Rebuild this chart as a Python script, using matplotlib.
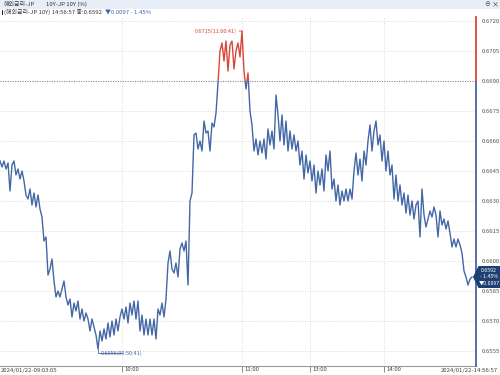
import numpy as np
import matplotlib
matplotlib.use('Agg')
import matplotlib.pyplot as plt
from matplotlib.patches import Rectangle, Polygon
from matplotlib.transforms import blended_transform_factory

plt.rcParams['font.family'] = ['Noto Sans CJK KR', 'DejaVu Sans']

# ---- data (JP 10Y yield, 2024/01/22) ----
values = [
    0.6650, 0.6647, 0.6650, 0.6646, 0.6649, 0.6635, 0.6648, 0.6650, 0.6643, 0.6646,
    0.6641, 0.6645, 0.6640, 0.6633, 0.6631, 0.6636, 0.6628, 0.6634, 0.6627, 0.6633,
    0.6626, 0.6622, 0.6610, 0.6612, 0.6593, 0.6596, 0.6601, 0.6590, 0.6582, 0.6585,
    0.6582, 0.6586, 0.6590, 0.6582, 0.6578, 0.6581, 0.6572, 0.6579, 0.6575, 0.6580,
    0.6571, 0.6576, 0.6570, 0.6574, 0.6571, 0.6565, 0.6571, 0.6567, 0.6563, 0.6556,
    0.6565, 0.6560, 0.6566, 0.6561, 0.6569, 0.6562, 0.6570, 0.6563, 0.6571, 0.6565,
    0.6572, 0.6576, 0.6571, 0.6577, 0.6569, 0.6579, 0.6573, 0.6580, 0.6571, 0.6580,
    0.6565, 0.6573, 0.6563, 0.6571, 0.6563, 0.6571, 0.6563, 0.6571, 0.6561, 0.6576,
    0.6573, 0.6579, 0.6572, 0.6581, 0.6599, 0.6605, 0.6596, 0.6594, 0.6599, 0.6592,
    0.6606, 0.6609, 0.6605, 0.6610, 0.6588, 0.6630, 0.6634, 0.6663, 0.6664, 0.6656,
    0.6660, 0.6655, 0.6670, 0.6664, 0.6665, 0.6655, 0.6669, 0.6667, 0.6674, 0.6689,
    0.6705, 0.6709, 0.6700, 0.6710, 0.6695, 0.6708, 0.6710, 0.6696, 0.6705, 0.6709,
    0.6702, 0.6715, 0.6695, 0.6686, 0.6694, 0.6675, 0.6668, 0.6655, 0.6661, 0.6653,
    0.6660, 0.6654, 0.6661, 0.6651, 0.6666, 0.6658, 0.6665, 0.6656, 0.6683, 0.6673,
    0.6660, 0.6673, 0.6658, 0.6670, 0.6655, 0.6665, 0.6656, 0.6663, 0.6655, 0.6660,
    0.6648, 0.6655, 0.6641, 0.6653, 0.6644, 0.6650, 0.6640, 0.6648, 0.6634, 0.6645,
    0.6638, 0.6646, 0.6635, 0.6653, 0.6645, 0.6655, 0.6636, 0.6641, 0.6630, 0.6638,
    0.6628, 0.6635, 0.6630, 0.6636, 0.6630, 0.6636, 0.6631, 0.6645, 0.6654, 0.6643,
    0.6651, 0.6640, 0.6655, 0.6648, 0.6660, 0.6668, 0.6655, 0.6665, 0.6670, 0.6658,
    0.6663, 0.6650, 0.6660, 0.6645, 0.6655, 0.6643, 0.6648, 0.6631, 0.6643, 0.6630,
    0.6638, 0.6628, 0.6634, 0.6624, 0.6633, 0.6623, 0.6630, 0.6621, 0.6628, 0.6630,
    0.6612, 0.6636, 0.6623, 0.6617, 0.6621, 0.6625, 0.6622, 0.6627, 0.6623, 0.6612,
    0.6625, 0.6618, 0.6621, 0.6616, 0.6620, 0.6614, 0.6607, 0.6611, 0.6607, 0.6611,
    0.6608, 0.6604, 0.6595, 0.6592, 0.6588, 0.6591, 0.6592,
]
x_tick_idx = [61, 121, 155, 192]
x_tick_labels = ['10:00', '11:00', '13:00', '14:00']
y_ticks = [0.6555, 0.6570, 0.6585, 0.6600, 0.6615, 0.6630, 0.6645,
           0.6660, 0.6675, 0.6690, 0.6705, 0.6720]
prev_close = 0.6690
start_label = '2024/01/22-09:03:05'
end_label = '2024/01/22-14:56:57'
header1a = '해외금리-JP'
header1b = '10Y-JP 10Y (%)'
header2a = '(해외금리-JP 10Y) 14:56:57 종:0.6592'
header2b = '▼0.0097 - 1.45%'
max_idx, max_label = 121, '0.6715(11:00:41)'
min_idx, min_label = 49, '0.6556(09:50:41)'
box_lines = ['0.6592', '- 1.45%', '▼0.0097']

W, H = 500, 375
blue = '#4467a6'
red = '#d9463b'
navy = '#1e3f73'

fig = plt.figure(figsize=(W / 100, H / 100), dpi=100)
fig.patch.set_facecolor('white')

def fx(px):
    return px / W

def fy(py):
    return 1 - py / H

ax = fig.add_axes([0, fy(366), fx(476), (366 - 17) / H])
ax.set_facecolor('white')
x = np.arange(len(values))
ax.set_xlim(0, 238)
ax.set_ylim(0.65475, 0.6722)

# grid
for yv in y_ticks:
    if abs(yv - prev_close) < 1e-9:
        continue
    ax.axhline(yv, color='#cfcfcf', lw=0.6, ls=(0, (1, 2)), zorder=1)
for xv in x_tick_idx:
    ax.axvline(xv, color='#cfcfcf', lw=0.6, ls=(0, (1, 2)), zorder=1)
ax.axhline(prev_close, color='#8a8a8a', lw=0.8, ls=(0, (1, 1.2)), zorder=1.5)

# line, blue below prev close, red above
bl, = ax.plot(x, values, color=blue, lw=1.0, zorder=3)
rl, = ax.plot(x, values, color=red, lw=1.0, zorder=3)
clip_hi = Rectangle((-10, prev_close), 1000, 1, transform=ax.transData)
clip_lo = Rectangle((-10, prev_close - 1), 1000, 1, transform=ax.transData)
rl.set_clip_path(clip_hi)
bl.set_clip_path(clip_lo)

# spines
for s in ['left', 'top', 'right']:
    ax.spines[s].set_visible(False)
ax.spines['bottom'].set_color('#9a9a9a')
ax.spines['bottom'].set_linewidth(0.8)
trans = blended_transform_factory(ax.transAxes, ax.transData)
ax.plot([1, 1], [0.65475, prev_close], transform=trans, color=blue, lw=1.3, clip_on=False, zorder=4)
ax.plot([1, 1], [prev_close, 0.6722], transform=trans, color=red, lw=1.3, clip_on=False, zorder=4)

# y ticks
ax.yaxis.tick_right()
ax.set_yticks(y_ticks)
ax.set_yticklabels([f'{v:.4f}' for v in y_ticks])
ax.tick_params(axis='y', length=0, pad=4, labelsize=4.3, labelcolor='#555555')

# x ticks
ax.set_xticks(x_tick_idx)
ax.set_xticklabels(x_tick_labels)
ax.tick_params(axis='x', length=4, width=0.6, color='#777777', pad=-3.5,
               labelsize=4.3, labelcolor='#444444')
for lab in ax.get_xticklabels():
    lab.set_ha('left')
    lab.set_va('top')
    lab.set_x(0)
import matplotlib.transforms as mtrans
for lab in ax.get_xticklabels():
    lab.set_transform(lab.get_transform() + mtrans.ScaledTranslation(1.5 / 72, 0, fig.dpi_scale_trans))

fig.text(fx(1), fy(370.5), start_label, fontsize=4.3, color='#444444', ha='left', va='center')
fig.text(fx(498), fy(370.5), end_label, fontsize=4.3, color='#444444', ha='right', va='center')

# annotations
ax.annotate(max_label, xy=(max_idx, values[max_idx]), xytext=(-4, 0),
            textcoords='offset points', ha='right', va='center', fontsize=4,
            color=red, arrowprops=dict(arrowstyle='-', color=red, lw=0.6,
                                       shrinkA=0, shrinkB=0))
ax.annotate(min_label, xy=(min_idx, values[min_idx]), xytext=(2, -3),
            textcoords='offset points', ha='left', va='center', fontsize=4,
            color=blue, arrowprops=dict(arrowstyle='-', color=blue, lw=0.6,
                                        shrinkA=0, shrinkB=0,
                                        connectionstyle='angle,angleA=0,angleB=90,rad=0'))

# header
fig.patches.append(Rectangle((0, fy(8.5)), 1, 8.5 / H, transform=fig.transFigure,
                             facecolor='#e7eef7', edgecolor='none', zorder=0))
fig.text(fx(4), fy(4.5), header1a, fontsize=4.3, color='#333333', va='center')
fig.text(fx(46), fy(4.5), header1b, fontsize=4.3, color='#333333', va='center')
fig.patches.append(Rectangle((fx(1.5), fy(14.5)), fx(1.5), 5 / H, transform=fig.transFigure,
                             facecolor='#222222', edgecolor='none'))
t2 = fig.text(fx(4), fy(12), header2a, fontsize=4.3, color='#333333', va='center')
fig.canvas.draw()
bb = t2.get_window_extent()
fig.text((bb.x1 + 3) / W, fy(12), header2b, fontsize=4.3, color='#3d62b0', va='center')
fig.text(fx(487), fy(4.5), '⊖', fontsize=4.3, color='#555555', va='center', ha='center')
fig.text(fx(495), fy(4.5), '×', fontsize=5, color='#333333', va='center', ha='center')

# last value box
ydisp = ax.transData.transform((0, values[-1]))[1]
yc = ydisp / H
h = 11 / H
pts = [(fx(473), yc), (fx(478.5), yc + h), (fx(500), yc + h), (fx(500), yc - h), (fx(478.5), yc - h)]
fig.patches.append(Polygon(pts, closed=True, transform=fig.transFigure,
                           facecolor=navy, edgecolor='none', zorder=5))
for k, s in enumerate(box_lines):
    fig.text(fx(489), yc + (6.5 - 6.5 * k) / H, s, fontsize=3.8, color='white',
             ha='center', va='center', zorder=6)

fig.savefig('out.png', dpi=100)
